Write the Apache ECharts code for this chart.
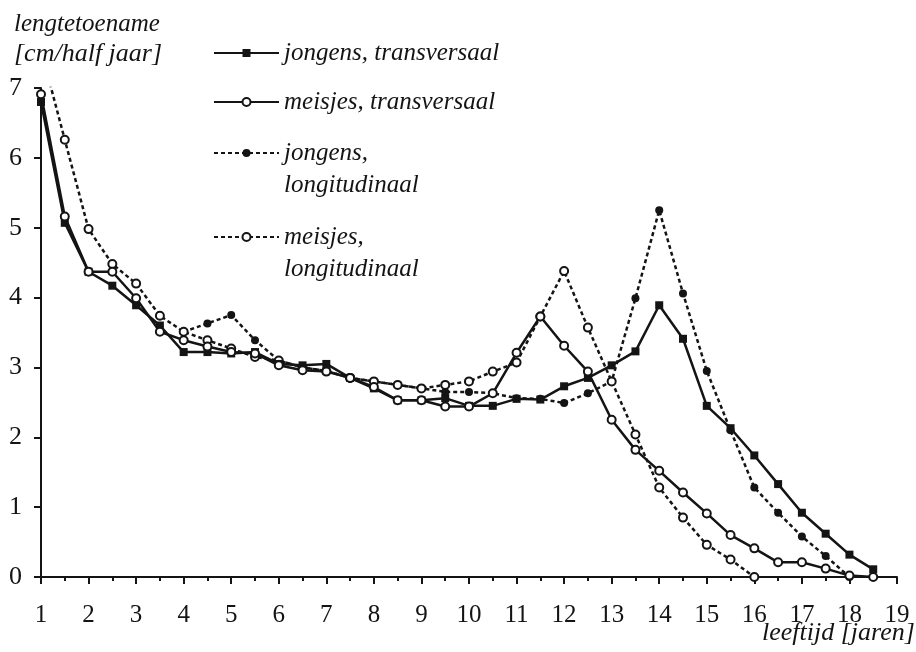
<!DOCTYPE html>
<html>
<head>
<meta charset="utf-8">
<script src="https://cdn.jsdelivr.net/npm/echarts@6/dist/echarts.min.js"></script>
<style>
  html, body { margin: 0; padding: 0; background: #ffffff; }
  #chart { width: 916px; height: 652px; }
</style>
</head>
<body>
<div id="chart"></div>
<script>
// Leeftijd in jaren (halfjaarlijkse metingen)
const ages = [1, 1.5, 2, 2.5, 3, 3.5, 4, 4.5, 5, 5.5, 6, 6.5, 7, 7.5, 8, 8.5, 9, 9.5,
              10, 10.5, 11, 11.5, 12, 12.5, 13, 13.5, 14, 14.5, 15, 15.5, 16, 16.5, 17, 17.5, 18, 18.5];

// Lengtetoename in cm per half jaar
const jongensTransversaal = [6.8, 5.07, 4.37, 4.17, 3.89, 3.6, 3.22, 3.22, 3.2, 3.22, 3.05, 3.03,
  3.05, 2.85, 2.7, 2.53, 2.53, 2.56, 2.45, 2.45, 2.55, 2.54, 2.73, 2.85, 3.03, 3.23, 3.89, 3.41,
  2.45, 2.13, 1.74, 1.33, 0.92, 0.62, 0.32, 0.11];

const meisjesTransversaal = [6.91, 5.16, 4.37, 4.37, 3.99, 3.51, 3.39, 3.3, 3.22, 3.2, 3.03, 2.96,
  2.94, 2.85, 2.72, 2.53, 2.53, 2.44, 2.44, 2.63, 3.21, 3.73, 3.31, 2.94, 2.25, 1.82, 1.52, 1.21,
  0.91, 0.6, 0.41, 0.21, 0.21, 0.12, 0.02, 0];

const jongensLongitudinaal = [null, null, null, null, null, null, 3.51, 3.63, 3.75, 3.39, 3.1, 3.0,
  2.95, 2.85, 2.8, 2.75, 2.7, 2.65, 2.65, 2.63, 2.56, 2.55, 2.49, 2.63, 2.8, 3.99, 5.25, 4.06,
  2.95, 2.1, 1.28, 0.92, 0.58, 0.3, 0, null];

const meisjesLongitudinaal = [7.55, 6.26, 4.98, 4.48, 4.2, 3.74, 3.51, 3.39, 3.27, 3.15, 3.1, 3.0,
  2.95, 2.85, 2.8, 2.75, 2.7, 2.75, 2.8, 2.94, 3.07, 3.73, 4.38, 3.57, 2.8, 2.04, 1.28, 0.85,
  0.46, 0.25, 0, null, null, null, null, null];

const seriesNames = ['jongens, transversaal', 'meisjes, transversaal',
                     'jongens,\nlongitudinaal', 'meisjes,\nlongitudinaal'];

const xRange = { min: 1, max: 19, step: 1 };
const yRange = { min: 0, max: 7, step: 1 };

const INK = '#141414';
const SERIF = '"Liberation Serif", "DejaVu Serif", serif';
const LINE_H = 32;

const toPoints = vals => ages.map((a, i) => [a, vals[i]]);

const chart = echarts.init(document.getElementById('chart'), null, { renderer: 'canvas' });

// One legend block per entry. Legend text is centred on its marker, so a
// two-line entry gets an empty leading line: the marker then sits level
// with the first line of text.
const legendAt = (name, top) => {
  const twoLines = name.indexOf('\n') >= 0;
  return {
    data: [name], orient: 'vertical', left: 213, top: top, padding: 0,
    itemWidth: 65, itemHeight: 10, selectedMode: false,
    formatter: twoLines ? (n => '\n' + n) : '{name}',
    textStyle: {
      fontFamily: SERIF, fontStyle: 'italic', fontSize: 25, color: INK,
      lineHeight: LINE_H
    }
  };
};

chart.setOption({
  animation: false,
  backgroundColor: '#ffffff',
  grid: { left: 41, right: 19, top: 88, bottom: 75, containLabel: false },
  xAxis: {
    type: 'value', min: xRange.min, max: xRange.max, interval: xRange.step,
    axisLine: { show: true, lineStyle: { color: INK, width: 2 } },
    axisTick: { show: true, length: 7, lineStyle: { color: INK, width: 2 } },
    minorTick: { show: true, splitNumber: 2, length: 4, lineStyle: { color: INK, width: 2 } },
    splitLine: { show: false },
    axisLabel: { color: INK, fontFamily: SERIF, fontSize: 25, margin: 26 }
  },
  yAxis: {
    type: 'value', min: yRange.min, max: yRange.max, interval: yRange.step,
    axisLine: { show: true, lineStyle: { color: INK, width: 2 } },
    axisTick: { show: true, length: 7, lineStyle: { color: INK, width: 2 } },
    splitLine: { show: false },
    axisLabel: { color: INK, fontFamily: SERIF, fontSize: 26, margin: 19, padding: [5, 0, 0, 0] }
  },
  legend: [
    legendAt(seriesNames[0], 37),
    legendAt(seriesNames[1], 86),
    legendAt(seriesNames[2], 105),
    legendAt(seriesNames[3], 189)
  ],
  graphic: [
    { type: 'text', x: 14, y: 24, silent: true,
      style: { text: 'lengtetoename', font: 'italic 25px ' + SERIF, fill: INK, verticalAlign: 'middle' } },
    { type: 'text', x: 14, y: 54, silent: true,
      style: { text: '[cm/half jaar]', font: 'italic 26px ' + SERIF, fill: INK, verticalAlign: 'middle' } },
    { type: 'text', x: 762, y: 633, silent: true,
      style: { text: 'leeftijd [jaren]', font: 'italic 26px ' + SERIF, fill: INK, verticalAlign: 'middle' } }
  ],
  series: [
    {
      name: seriesNames[0], type: 'line', data: toPoints(jongensTransversaal), z: 4,
      symbol: 'rect', symbolSize: 8, showAllSymbol: true,
      lineStyle: { color: INK, width: 2.5 }, itemStyle: { color: INK }
    },
    {
      name: seriesNames[1], type: 'line', data: toPoints(meisjesTransversaal), z: 5,
      symbol: 'emptyCircle', symbolSize: 8, showAllSymbol: true,
      lineStyle: { color: INK, width: 2.5 }, itemStyle: { color: INK }
    },
    {
      name: seriesNames[2], type: 'line', data: toPoints(jongensLongitudinaal), z: 2,
      symbol: 'circle', symbolSize: 8, showAllSymbol: true,
      lineStyle: { color: INK, width: 2.5, type: [4, 3] }, itemStyle: { color: INK }
    },
    {
      name: seriesNames[3], type: 'line', data: toPoints(meisjesLongitudinaal), z: 3,
      symbol: 'emptyCircle', symbolSize: 8, showAllSymbol: true,
      lineStyle: { color: INK, width: 2.5, type: [4, 3] }, itemStyle: { color: INK }
    }
  ]
});
</script>
</body>
</html>
